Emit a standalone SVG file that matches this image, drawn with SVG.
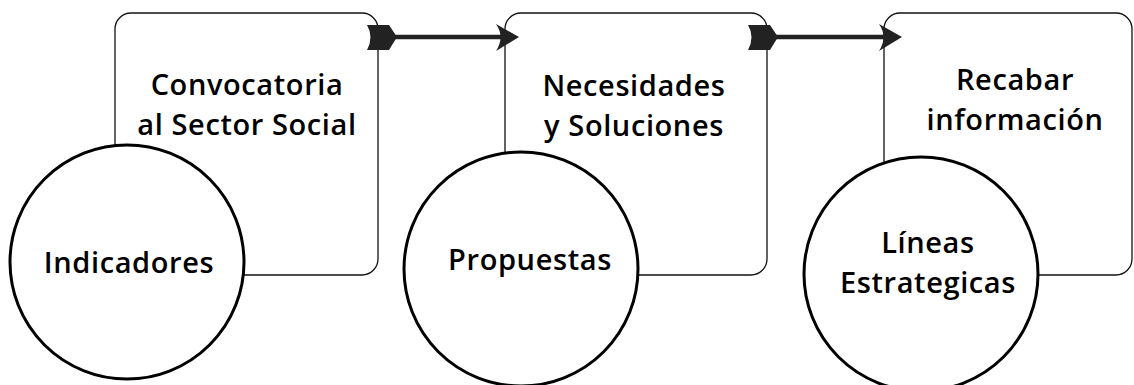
<svg xmlns="http://www.w3.org/2000/svg" width="1134" height="385" viewBox="0 0 1134 385">
<style>
.box{fill:#fff;stroke:#111;stroke-width:1.3}
.circ{fill:#fff;stroke:#000;stroke-width:3}
.lbl{font-family:"Open Sans","Liberation Sans",sans-serif;font-weight:600;font-size:29px;letter-spacing:0.6px;fill:#000;text-anchor:middle}
.line{stroke:#222;stroke-width:4.5;fill:none}
.arr{fill:#222}
</style>
<rect width="1134" height="385" fill="#fff"/>
<g id="box1"><rect class="box" x="115" y="13" width="263" height="262" rx="16"/>
<text class="lbl" x="247" y="95">Convocatoria</text><text class="lbl" x="247" y="135">al Sector Social</text></g>
<g id="box2"><rect class="box" x="505" y="13" width="262" height="262" rx="16"/>
<text class="lbl" x="634" y="96">Necesidades</text><text class="lbl" x="634" y="136">y Soluciones</text></g>
<g id="box3"><rect class="box" x="884" y="13" width="248" height="262" rx="16"/>
<text class="lbl" x="1015" y="90">Recabar</text><text class="lbl" x="1015" y="130">información</text></g>
<g id="circle1"><circle class="circ" cx="127" cy="262" r="117"/>
<text class="lbl" x="129" y="273">Indicadores</text></g>
<g id="circle2"><circle class="circ" cx="521" cy="269" r="117"/>
<text class="lbl" x="530" y="270">Propuestas</text></g>
<g id="circle3"><circle class="circ" cx="921" cy="274" r="117"/>
<text class="lbl" x="928" y="253">Líneas</text><text class="lbl" x="928" y="293">Estrategicas</text></g>
<g id="connectors">
<path class="line" d="M390,37 H508"/>
<path class="arr" d="M367,25 H389 L397,37 L389,50 H367 Q374,37 367,25 Z"/>
<path class="arr" d="M519,37 L496,24 Q505,37 496,51 Z"/>
<path class="line" d="M771,37 H892"/>
<path class="arr" d="M748,25 H770 L778,37 L770,50 H748 Q755,37 748,25 Z"/>
<path class="arr" d="M902,37 L879,24 Q888,37 879,51 Z"/>
</g>
</svg>
